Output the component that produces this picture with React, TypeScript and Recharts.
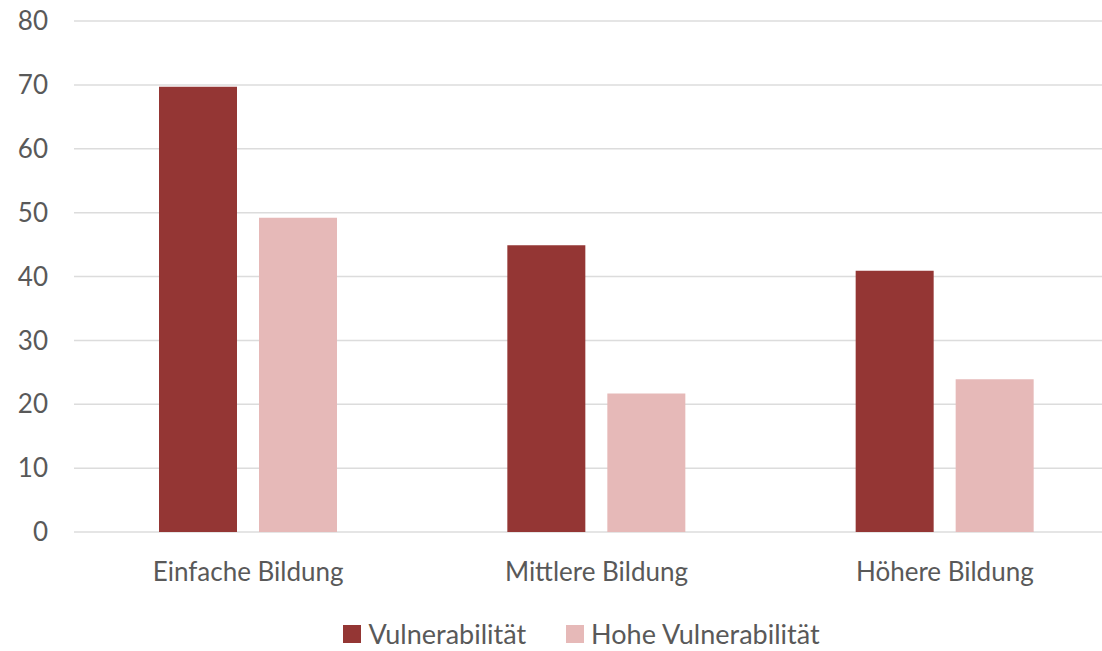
import React from "react";
import { BarChart, Bar, XAxis, YAxis, CartesianGrid, Legend } from "recharts";

const categories = ["Einfache Bildung", "Mittlere Bildung", "Höhere Bildung"];
const vulnerabilitaet = [69.7, 44.9, 40.9];
const hoheVulnerabilitaet = [49.2, 21.7, 23.9];
const yTicks = [0, 10, 20, 30, 40, 50, 60, 70, 80];
const seriesOrder = ["Vulnerabilität", "Hohe Vulnerabilität"];

const data = categories.map((name, i) => ({
  name,
  a1: vulnerabilitaet[i],
  b2: hoheVulnerabilitaet[i],
}));

const FONT = "Lato, 'Open Sans', sans-serif";
const TEXT = "#595959";
const FS = 26;

function LegendContent(props: any) {
  const payload = [...(props.payload || [])].sort(
    (x: any, y: any) => seriesOrder.indexOf(x.value) - seriesOrder.indexOf(y.value)
  );
  return (
    <div style={{ display: "flex", justifyContent: "center", alignItems: "center", height: 30, fontFamily: FONT, fontSize: 27, color: TEXT }}>
      {payload.map((p: any, i: number) => (
        <div key={p.value} style={{ display: "flex", alignItems: "center", marginLeft: i === 0 ? 0 : 40 }}>
          <span style={{ display: "inline-block", width: 18, height: 18, background: p.color, marginRight: 7 }} />
          <span style={{ lineHeight: "30px" }}>{p.value}</span>
        </div>
      ))}
    </div>
  );
}

export default function App() {
  return (
    <div style={{ position: "absolute", left: 0, top: 0, width: 1102, height: 651, overflow: "hidden", background: "#fff" }}>
      <BarChart
        width={1102}
        height={651}
        data={data}
        margin={{ top: 21, right: -17, left: 0, bottom: 29 }}
        barGap={22}
        barCategoryGap="24.4%"
      >
        <CartesianGrid vertical={false} stroke="#dcdcdc" strokeWidth={1.5} />
        <XAxis
          dataKey="name"
          axisLine={false}
          tickLine={false}
          tickSize={0}
          tickMargin={31}
          height={60}
          tick={{ fill: TEXT, fontSize: FS, fontFamily: FONT }}
        />
        <YAxis
          domain={[0, 80]}
          ticks={yTicks}
          axisLine={false}
          tickLine={false}
          tickSize={0}
          tickMargin={26}
          width={74}
          tick={{ fill: TEXT, fontSize: FS, fontFamily: FONT }}
        />
        <Legend
          verticalAlign="bottom"
          height={30}
          content={LegendContent}
          wrapperStyle={{ position: "absolute", top: 619, left: 0, width: 1163, height: 30 }}
        />
        <Bar dataKey="a1" name="Vulnerabilität" fill="#943634" barSize={78} isAnimationActive={false} />
        <Bar dataKey="b2" name="Hohe Vulnerabilität" fill="#E6B9B8" barSize={78} isAnimationActive={false} />
      </BarChart>
    </div>
  );
}
